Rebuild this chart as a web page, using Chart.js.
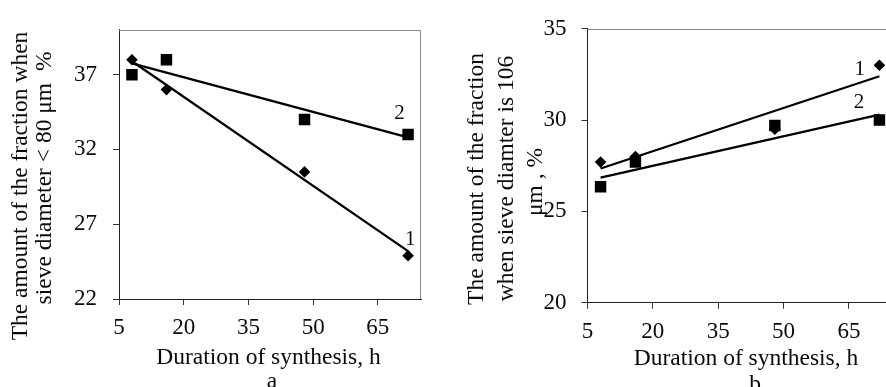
<!DOCTYPE html>
<html><head><meta charset="utf-8">
<script src="https://cdn.jsdelivr.net/npm/chart.js@4.4.1/dist/chart.umd.min.js"></script>
<style>
html,body{margin:0;padding:0;background:#fff;overflow:hidden;width:886px;height:387px;position:relative;}
#wa{position:absolute;left:0;top:0;width:443px;height:387px;}
#wb{position:absolute;left:443px;top:0;width:460px;height:387px;}
</style></head><body>
<div id="wa"><canvas id="ca"></canvas></div>
<div id="wb"><canvas id="cb"></canvas></div>
<script>
// ---- data ----
const xTicks = [5, 20, 35, 50, 65];
const yTicksA = [22, 27, 32, 37];
const yTicksB = [20, 25, 30, 35];

const durationA = [8, 16, 48, 72];
const fraction80Curve1 = [38, 36, 30.5, 24.9];
const fraction80Curve2 = [37, 38, 34, 33];
const trendXA = [8, 72];
const trendA1 = [37.9, 25.2];
const trendA2 = [37.75, 32.8];

const durationB = [8, 16, 48, 72];
const fraction106Curve1 = [27.7, 28, 29.5, 33];
const fraction106Curve2 = [26.35, 27.7, 29.7, 30];
const trendXB = [8, 72];
const trendB1 = [27.35, 32.4];
const trendB2 = [26.85, 30.3];

const curveNames = ['1', '2'];

const FONT = "'Liberation Serif', 'Times New Roman', serif";
const INK = '#0a0a0a';

function pts(xs, ys) { return xs.map((x, i) => ({x: x, y: ys[i]})); }

const decor = {
  id: 'decor',
  afterDraw(chart, args, o) {
    const {ctx, chartArea: a, scales: {x, y}} = chart;
    ctx.save();
    // light frame (top / right)
    ctx.strokeStyle = '#8a8a8a';
    ctx.lineWidth = 1;
    ctx.beginPath();
    ctx.moveTo(a.left, Math.round(a.top) + 0.5);
    ctx.lineTo(Math.round(a.right) - 0.5, Math.round(a.top) + 0.5);
    ctx.lineTo(Math.round(a.right) - 0.5, a.bottom);
    ctx.stroke();
    ctx.fillStyle = INK;
    // y title lines (rotated)
    ctx.font = o.titleFont;
    ctx.textAlign = 'center';
    ctx.textBaseline = 'alphabetic';
    o.yTitle.forEach(l => {
      ctx.save();
      ctx.translate(l.x, l.cy);
      ctx.rotate(-Math.PI / 2);
      ctx.fillText(l.text, 0, 0);
      ctx.restore();
    });
    // x title and caption
    o.xTitle.forEach(l => { ctx.fillText(l.text, l.cx, l.y); });
    // curve numbers
    ctx.font = o.numFont;
    ctx.textBaseline = 'middle';
    o.nums.forEach(n => {
      ctx.fillText(n.text, x.getPixelForValue(n.x), y.getPixelForValue(n.y));
    });
    ctx.restore();
  }
};

function makeChart(id, cfg) {
  return new Chart(document.getElementById(id), {
    type: 'scatter',
    data: {
      datasets: [
        {data: pts(cfg.xs, cfg.c1), pointStyle: 'rectRot', pointRadius: 5.8, backgroundColor: '#000', borderWidth: 0, showLine: false},
        {data: pts(cfg.xs, cfg.c2), pointStyle: 'rect', pointRadius: 8.1, backgroundColor: '#000', borderWidth: 0, showLine: false},
        {data: pts(cfg.tx, cfg.t1), showLine: true, pointRadius: 0, borderColor: '#000', borderWidth: 2.3},
        {data: pts(cfg.tx, cfg.t2), showLine: true, pointRadius: 0, borderColor: '#000', borderWidth: 2.3}
      ]
    },
    options: {
      animation: false,
      responsive: true,
      maintainAspectRatio: false,
      devicePixelRatio: 1,
      layout: {padding: {left: 0, top: cfg.padTop, right: cfg.padRight, bottom: 0}},
      plugins: {
        legend: {display: false},
        tooltip: {enabled: false},
        decor: cfg.decor
      },
      scales: {
        x: {
          type: 'linear', min: 5, max: 75,
          afterBuildTicks: s => { s.ticks = xTicks.map(v => ({value: v})); },
          afterFit: s => { s.height = cfg.xH; },
          grid: {drawOnChartArea: false, drawTicks: true, tickLength: 6, color: '#333', lineWidth: 1},
          border: {display: true, color: '#222', width: 1},
          ticks: {color: INK, font: {family: FONT, size: 23}, padding: 9, maxRotation: 0, autoSkip: false}
        },
        y: {
          type: 'linear', min: cfg.yMin, max: cfg.yMax,
          afterBuildTicks: s => { s.ticks = cfg.yTicks.map(v => ({value: v})); },
          afterFit: s => { s.width = cfg.yW; },
          grid: {drawOnChartArea: false, drawTicks: true, tickLength: 6, color: '#333', lineWidth: 1},
          border: {display: true, color: '#222', width: 1},
          ticks: {color: INK, font: {family: FONT, size: 23}, padding: cfg.yPad, autoSkip: false}
        }
      }
    },
    plugins: [decor]
  });
}

makeChart('ca', {
  xs: durationA, c1: fraction80Curve1, c2: fraction80Curve2,
  tx: trendXA, t1: trendA1, t2: trendA2,
  yMin: 22, yMax: 40, yTicks: yTicksA,
  padTop: 20, padRight: 22, xH: 88, yW: 119, yPad: 16,
  decor: {
    titleFont: "23.5px " + FONT,
    numFont: "21px " + FONT,
    yTitle: [
      {text: 'The amount of the fraction when', x: 27, cy: 186},
      {text: 'sieve diameter < 80 \u03bcm  %', x: 51, cy: 178}
    ],
    xTitle: [
      {text: 'Duration of synthesis, h', cx: 268.5, y: 364},
      {text: 'a', cx: 272, y: 388}
    ],
    nums: [
      {text: curveNames[1], x: 70, y: 34.4},
      {text: curveNames[0], x: 72.5, y: 26.0}
    ]
  }
});

makeChart('cb', {
  xs: durationB, c1: fraction106Curve1, c2: fraction106Curve2,
  tx: trendXB, t1: trendB1, t2: trendB2,
  yMin: 20, yMax: 35, yTicks: yTicksB,
  padTop: 16, padRight: 10.5, xH: 84.3, yW: 144.5, yPad: 15,
  decor: {
    titleFont: "23.5px " + FONT,
    numFont: "21px " + FONT,
    yTitle: [
      {text: 'The amount of the fraction', x: 40, cy: 179},
      {text: 'when sieve diamter is 106', x: 70, cy: 178.5},
      {text: '\u03bcm , %', x: 99, cy: 182}
    ],
    xTitle: [
      {text: 'Duration of synthesis, h', cx: 303, y: 365},
      {text: 'b', cx: 312, y: 391}
    ],
    nums: [
      {text: curveNames[0], x: 67.5, y: 32.75},
      {text: curveNames[1], x: 67.3, y: 30.95}
    ]
  }
});
</script>
</body></html>
